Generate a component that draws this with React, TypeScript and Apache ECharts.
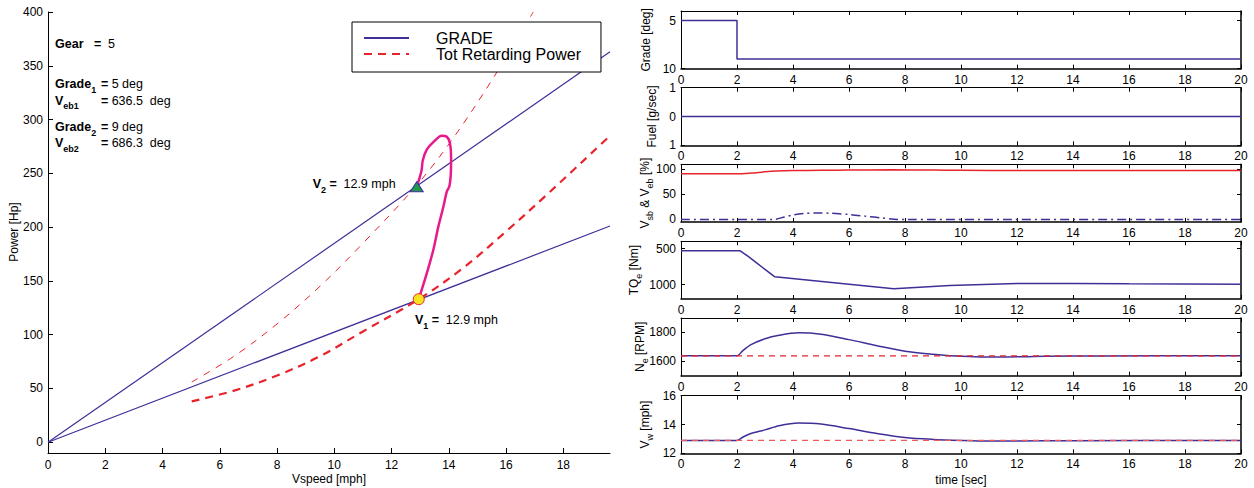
import React, { useEffect, useRef } from "react";
import * as echarts from "echarts";

const FONT = '"Liberation Sans", Arial, Helvetica, sans-serif';
const BLUE = "#3f2f98";
const RED = "#e8232c";
const MAGENTA = "#e8198b";
const BLACK = "#000000";

// ---------------- Left chart: Power vs Vspeed ----------------
const vspeedTicks = [0, 2, 4, 6, 8, 10, 12, 14, 16, 18];
const powerTicks = [0, 50, 100, 150, 200, 250, 300, 350, 400];

const grade1Speed = [0, 19.63];
const grade1Power = [0, 201];
const grade2Speed = [0, 19.63];
const grade2Power = [0, 363];

const retard1Speed = [5.02, 6.5, 8, 9.5, 11, 12.95, 14.5, 16, 17.5, 19.63];
const retard1Power = [38, 48, 62, 80, 103, 133, 162, 196, 232, 285];

const retard2Speed = [5.02, 6.5, 8, 9.5, 11, 12.88, 14.16, 15.56, 16.95];
const retard2Power = [56, 80, 110, 145, 185, 239, 283, 339, 400];

const loopSpeed = [12.95, 13.23, 13.46, 13.63, 13.81, 13.93, 14.02, 14.07, 14.08, 14.04, 13.93, 13.75, 13.46, 13.23, 13.09, 13.05, 12.97, 12.88];
const loopPower = [133, 157, 179, 200, 219, 233, 238, 250, 265, 278, 284, 285, 279, 272, 262, 253, 245, 237.5];

const v1Point = [12.95, 133];
const v2Point = [12.88, 237.5];

// ---------------- Right panels: time histories ----------------
const timeTicks = [0, 2, 4, 6, 8, 10, 12, 14, 16, 18, 20];

const gradeTime = [0, 2, 2, 20];
const gradeDeg = [-5, -5, -9, -9];
const gradeTicks = [-10, -5];

const fuelTime = [0, 20];
const fuelRate = [0, 0];
const fuelTicks = [-1, 0, 1];

const vebTime = [0, 2, 2.5, 3, 3.4, 4, 5, 6, 7.5, 9, 10, 12, 15, 20];
const vebPct = [91, 91, 92.5, 95, 96.5, 97.5, 98, 98.5, 99, 98.5, 98, 97.5, 97.5, 97.5];
const vsbTime = [0, 2, 3.3, 3.7, 4.0, 4.4, 4.8, 5.3, 6.0, 6.6, 7.2, 7.6, 8, 20];
const vsbPct = [0, 0, 0, 5, 9, 12, 13, 12.5, 10, 6.5, 3, 0.5, 0, 0];
const vPctTicks = [0, 50, 100];

const tqTime = [0, 2.1, 2.4, 2.7, 3.0, 3.35, 6, 7.6, 9.6, 12, 14, 16, 20];
const tqNm = [-530, -530, -610, -700, -790, -893, -996, -1059, -1012, -985, -985, -990, -995];
const tqTicks = [-1000, -500];

const neTime = [0, 2, 2.2, 2.5, 3, 3.5, 4.2, 5, 6, 7, 8, 9, 9.6, 10.5, 11.5, 13, 15, 20];
const neRpm = [1638, 1638, 1672, 1715, 1756, 1780, 1797, 1787, 1750, 1708, 1670, 1648, 1639, 1632, 1630, 1634, 1637, 1638];
const neRefTime = [0, 20];
const neRefRpm = [1638, 1638];
const neTicks = [1600, 1800];

const vwTime = [0, 2, 2.2, 2.5, 3, 3.5, 4.2, 5, 6, 7, 8, 9, 10, 11, 12, 14, 20];
const vwMph = [12.9, 12.9, 13.12, 13.38, 13.63, 13.92, 14.1, 14.03, 13.72, 13.38, 13.1, 12.97, 12.9, 12.86, 12.86, 12.88, 12.9];
const vwRefTime = [0, 20];
const vwRefMph = [12.9, 12.9];
const vwTicks = [12, 14, 16];

const zip = (a: number[], b: number[]) => a.map((x, i) => [x, b[i]]);

// layout
const LEFT_GRID = { left: 48, top: 12, width: 562, height: 441 };
const PANEL_LEFT = 681;
const PANEL_WIDTH = 560;
const PANEL_TOPS = [11, 87.7, 164.3, 241.3, 318, 395.7];
const PANEL_HEIGHT = 57.7;

const panelRanges = [
  { min: -10, max: -4, ticks: gradeTicks, abs: true },
  { min: -1, max: 1, ticks: fuelTicks, abs: true },
  { min: -5, max: 110, ticks: vPctTicks, abs: false },
  { min: -1200, max: -400, ticks: tqTicks, abs: true },
  { min: 1500, max: 1900, ticks: neTicks, abs: false },
  { min: 12, max: 16, ticks: vwTicks, abs: false },
];

const richAnn = {
  b: { fontFamily: FONT, fontSize: 12.5, fontWeight: "bold", fill: BLACK, lineHeight: 20, verticalAlign: "middle" },
  bs: { fontFamily: FONT, fontSize: 9, fontWeight: "bold", fill: BLACK, lineHeight: 20, verticalAlign: "bottom" },
  n: { fontFamily: FONT, fontSize: 12.5, fill: BLACK, lineHeight: 20, verticalAlign: "middle" },
};

const richAx = {
  n: { fontFamily: FONT, fontSize: 12, fill: BLACK, lineHeight: 18, verticalAlign: "middle" },
  s: { fontFamily: FONT, fontSize: 9, fill: BLACK, lineHeight: 18, verticalAlign: "bottom" },
};

function annText(x: number, y: number, text: string, rich: any, rotate = 0, align = "left") {
  return {
    type: "text",
    x,
    y,
    rotation: rotate,
    z: 50,
    style: {
      text,
      rich,
      textAlign: align,
      textVerticalAlign: "middle",
      fontFamily: FONT,
      fontSize: 12,
      fill: BLACK,
    },
  };
}

function buildOption() {
  const grids: any[] = [{ ...LEFT_GRID, outerBoundsMode: "none", containLabel: false }];
  PANEL_TOPS.forEach((t) =>
    grids.push({ left: PANEL_LEFT, top: t, width: PANEL_WIDTH, height: PANEL_HEIGHT, outerBoundsMode: "none", containLabel: false })
  );

  const axisLabelBase = { color: BLACK, fontFamily: FONT, fontSize: 12 };

  const xAxes: any[] = [
    {
      type: "value",
      gridIndex: 0,
      min: 0,
      max: 19.63,
      axisLine: { show: true, onZero: false, lineStyle: { color: BLACK, width: 1 } },
      axisTick: { show: true, inside: true, length: 5, customValues: vspeedTicks, lineStyle: { color: BLACK } },
      axisLabel: { ...axisLabelBase, margin: 6, customValues: vspeedTicks },
      splitLine: { show: false },
    },
  ];
  const yAxes: any[] = [
    {
      type: "value",
      gridIndex: 0,
      min: -10,
      max: 400,
      axisLine: { show: true, onZero: false, lineStyle: { color: BLACK, width: 1 } },
      axisTick: { show: true, inside: true, length: 5, customValues: powerTicks, lineStyle: { color: BLACK } },
      axisLabel: { ...axisLabelBase, margin: 5, customValues: powerTicks },
      splitLine: { show: false },
    },
  ];

  panelRanges.forEach((r, i) => {
    const g = i + 1;
    xAxes.push({
      type: "value",
      gridIndex: g,
      min: 0,
      max: 20,
      position: "bottom",
      axisLine: { show: true, onZero: false, lineStyle: { color: BLACK, width: 1.5 } },
      axisTick: { show: true, inside: true, length: 4, customValues: timeTicks, lineStyle: { color: BLACK } },
      axisLabel: { ...axisLabelBase, margin: 5, customValues: timeTicks },
      splitLine: { show: false },
    });
    xAxes.push({
      type: "value",
      gridIndex: g,
      min: 0,
      max: 20,
      position: "top",
      axisLine: { show: true, onZero: false, lineStyle: { color: BLACK, width: 1 } },
      axisTick: { show: true, inside: true, length: 4, customValues: timeTicks, lineStyle: { color: BLACK } },
      axisLabel: { show: false },
      splitLine: { show: false },
    });
    yAxes.push({
      type: "value",
      gridIndex: g,
      min: r.min,
      max: r.max,
      position: "left",
      axisLine: { show: true, onZero: false, lineStyle: { color: BLACK, width: 1 } },
      axisTick: { show: true, inside: true, length: 4, customValues: r.ticks, lineStyle: { color: BLACK } },
      axisLabel: {
        ...axisLabelBase,
        margin: 5,
        customValues: r.ticks,
        formatter: (v: number) => String(r.abs ? Math.abs(v) : v),
      },
      splitLine: { show: false },
    });
    yAxes.push({
      type: "value",
      gridIndex: g,
      min: r.min,
      max: r.max,
      position: "right",
      axisLine: { show: true, onZero: false, lineStyle: { color: BLACK, width: 1.5 } },
      axisTick: { show: true, inside: true, length: 4, customValues: r.ticks, lineStyle: { color: BLACK } },
      axisLabel: { show: false },
      splitLine: { show: false },
    });
  });

  const lineBase = { type: "line", symbol: "none", showSymbol: false, silent: true };
  const P = (i: number) => ({ xAxisIndex: 1 + 2 * i, yAxisIndex: 1 + 2 * i });

  const series: any[] = [
    {
      ...lineBase,
      name: "GRADE",
      xAxisIndex: 0,
      yAxisIndex: 0,
      data: zip(grade1Speed, grade1Power),
      itemStyle: { color: BLUE },
      lineStyle: { color: BLUE, width: 1.2 },
    },
    {
      ...lineBase,
      name: "GRADE",
      xAxisIndex: 0,
      yAxisIndex: 0,
      data: zip(grade2Speed, grade2Power),
      itemStyle: { color: BLUE },
      lineStyle: { color: BLUE, width: 1.2 },
    },
    {
      ...lineBase,
      name: "Tot Retarding Power",
      xAxisIndex: 0,
      yAxisIndex: 0,
      smooth: 0.35,
      data: zip(retard1Speed, retard1Power),
      itemStyle: { color: RED },
      lineStyle: { color: RED, width: 2.2, type: [8, 6] },
    },
    {
      ...lineBase,
      name: "Tot Retarding Power",
      xAxisIndex: 0,
      yAxisIndex: 0,
      smooth: 0.35,
      data: zip(retard2Speed, retard2Power),
      itemStyle: { color: RED },
      lineStyle: { color: RED, width: 1, type: [7, 7] },
    },
    {
      ...lineBase,
      name: "loop",
      xAxisIndex: 0,
      yAxisIndex: 0,
      smooth: 0.3,
      data: zip(loopSpeed, loopPower),
      itemStyle: { color: MAGENTA },
      lineStyle: { color: MAGENTA, width: 2.5 },
      z: 3,
    },
    {
      type: "scatter",
      name: "V1",
      xAxisIndex: 0,
      yAxisIndex: 0,
      symbol: "circle",
      symbolSize: 11,
      data: [v1Point],
      itemStyle: { color: "#f6e21e", borderColor: RED, borderWidth: 1, opacity: 1 },
      z: 4,
      silent: true,
    },
    {
      type: "scatter",
      name: "V2",
      xAxisIndex: 0,
      yAxisIndex: 0,
      symbol: "triangle",
      symbolSize: [13, 10],
      data: [v2Point],
      itemStyle: { color: "#1d9a4a", borderColor: BLUE, borderWidth: 1, opacity: 1 },
      z: 4,
      silent: true,
    },
    // right panels
    { ...lineBase, name: "grade", ...P(0), data: zip(gradeTime, gradeDeg), lineStyle: { color: BLUE, width: 1.5 } },
    { ...lineBase, name: "fuel", ...P(1), data: zip(fuelTime, fuelRate), lineStyle: { color: BLUE, width: 1.5 } },
    { ...lineBase, name: "veb", ...P(2), smooth: 0.3, data: zip(vebTime, vebPct), lineStyle: { color: RED, width: 1.5 } },
    { ...lineBase, name: "vsb", ...P(2), smooth: 0.3, data: zip(vsbTime, vsbPct), lineStyle: { color: BLUE, width: 1.5, type: [9, 4, 2, 4] } },
    { ...lineBase, name: "tq", ...P(3), data: zip(tqTime, tqNm), lineStyle: { color: BLUE, width: 1.5 } },
    { ...lineBase, name: "ne", ...P(4), smooth: 0.3, data: zip(neTime, neRpm), lineStyle: { color: BLUE, width: 1.5 } },
    { ...lineBase, name: "neRef", ...P(4), data: zip(neRefTime, neRefRpm), lineStyle: { color: RED, width: 1.2, type: [6, 5] } },
    { ...lineBase, name: "vw", ...P(5), smooth: 0.3, data: zip(vwTime, vwMph), lineStyle: { color: BLUE, width: 1.5 } },
    { ...lineBase, name: "vwRef", ...P(5), data: zip(vwRefTime, vwRefMph), lineStyle: { color: "#ee5a5a", width: 1.2, type: [6, 5] } },
  ];

  const panelMid = (i: number) => PANEL_TOPS[i] + PANEL_HEIGHT / 2;
  const R = Math.PI / 2;

  const graphic: any[] = [
    // left chart annotations
    annText(55, 44, "{b|Gear}", richAnn),
    annText(94, 44, "{b|=}  {n|5}", richAnn),
    annText(55, 84, "{b|Grade}{bs|1}", richAnn),
    annText(101, 84, "{b|=} {n|5 deg}", richAnn),
    annText(55, 100.5, "{b|V}{bs|eb1}", richAnn),
    annText(101, 100.5, "{b|=} {n|636.5  deg}", richAnn),
    annText(55, 127, "{b|Grade}{bs|2}", richAnn),
    annText(101, 127, "{b|=} {n|9 deg}", richAnn),
    annText(55, 143, "{b|V}{bs|eb2}", richAnn),
    annText(101, 143, "{b|=} {n|686.3  deg}", richAnn),
    annText(312.7, 184, "{b|V}{bs|2}{b| =}  {n|12.9 mph}", richAnn),
    annText(415, 320, "{b|V}{bs|1}{b| =}  {n|12.9 mph}", richAnn),
    // axis titles
    annText(14, 232, "{n|Power [Hp]}", richAx, R, "center"),
    annText(329, 479, "{n|Vspeed [mph]}", richAx, 0, "center"),
    annText(961, 480, "{n|time [sec]}", richAx, 0, "center"),
    annText(646, panelMid(0), "{n|Grade [deg]}", richAx, R, "center"),
    annText(652, panelMid(1), "{n|Fuel [g/sec]}", richAx, R, "center"),
    annText(645, panelMid(2), "{n|V}{s|sb}{n| & V}{s|eb}{n| [%]}", richAx, R, "center"),
    annText(634, panelMid(3), "{n|TQ}{s|e}{n| [Nm]}", richAx, R, "center"),
    annText(640, panelMid(4), "{n|N}{s|e}{n| [RPM]}", richAx, R, "center"),
    annText(645, panelMid(5), "{n|V}{s|w}{n| [mph]}", richAx, R, "center"),
  ];

  return {
    animation: false,
    backgroundColor: "#ffffff",
    textStyle: { fontFamily: FONT },
    grid: grids,
    xAxis: xAxes,
    yAxis: yAxes,
    legend: {
      show: true,
      orient: "vertical",
      left: 352,
      top: 22,
      data: ["GRADE", "Tot Retarding Power"],
      backgroundColor: "#ffffff",
      borderColor: BLACK,
      borderWidth: 1,
      borderRadius: 0,
      padding: [8, 20, 10, 11],
      itemGap: 0,
      itemWidth: 45,
      itemHeight: 14,
      selectedMode: false,
      itemStyle: { opacity: 0, borderWidth: 0 },
      textStyle: { fontFamily: FONT, fontSize: 16, color: BLACK, lineHeight: 16, padding: [0, 0, 0, 22] },
      z: 20,
    },
    series,
    graphic,
  };
}

export default function App() {
  const ref = useRef<HTMLDivElement>(null);
  useEffect(() => {
    if (!ref.current) return;
    const chart = echarts.init(ref.current, null, { renderer: "svg" });
    chart.setOption(buildOption() as any);
    return () => chart.dispose();
  }, []);
  return (
    <div
      ref={ref}
      style={{ position: "fixed", left: 0, top: 0, width: 1254, height: 488, background: "#fff" }}
    />
  );
}
